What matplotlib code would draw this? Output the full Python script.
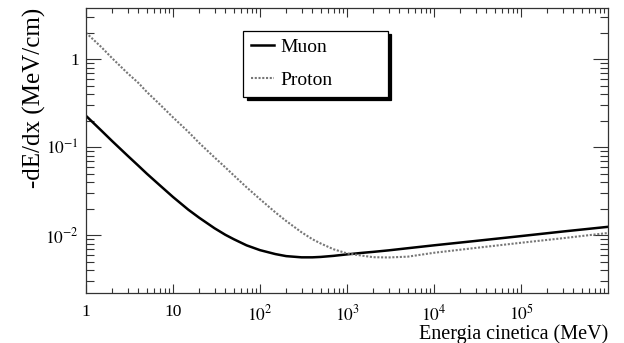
import matplotlib
matplotlib.use("Agg")
import matplotlib.pyplot as plt
from matplotlib.ticker import LogLocator, FixedLocator, FixedFormatter, NullFormatter

plt.rcParams['font.family'] = ['Liberation Serif', 'DejaVu Serif']
plt.rcParams['mathtext.fontset'] = 'stix'

# kinetic energy (MeV) and stopping power (MeV/cm)
energy = [1, 1.5, 2, 3, 4, 5, 7, 10, 15, 20, 30, 40, 50, 70, 100, 150, 200,
          300, 400, 500, 700, 1e3, 1.5e3, 2e3, 3e3, 5e3, 1e4, 3e4, 1e5,
          3e5, 1e6]
muon = [0.228, 0.155, 0.1175, 0.0804, 0.0617, 0.0501, 0.0372, 0.0272,
        0.0195, 0.0158, 0.0120, 0.0101, 0.0090, 0.00767, 0.00676, 0.00610,
        0.00578, 0.00560, 0.00560, 0.00566, 0.00582, 0.00605, 0.00630,
        0.00646, 0.00672, 0.00711, 0.00767, 0.00860, 0.00977, 0.01100,
        0.01245]
proton = [2.01, 1.38, 1.03, 0.697, 0.540, 0.426, 0.310, 0.219, 0.150,
          0.112, 0.0767, 0.0590, 0.0479, 0.0351, 0.0257, 0.0182, 0.0145,
          0.0108, 0.0090, 0.00804, 0.00692, 0.00621, 0.00585, 0.00562,
          0.00558, 0.00570, 0.00631, 0.00716, 0.00820, 0.00923, 0.0106]

xticks = [1, 10, 1e2, 1e3, 1e4, 1e5]
xlabels = ['1', '10', r'$10^{2}$', r'$10^{3}$', r'$10^{4}$', r'$10^{5}$']
yticks = [1e-2, 1e-1, 1]
ylabels = [r'$10^{-2}$', r'$10^{-1}$', '1']

fig = plt.figure(figsize=(6.24, 3.43), dpi=100)
ax = fig.add_axes([86/624, 50/343, 522/624, 285/343])

ax.plot(energy, muon, color='black', lw=1.8, label='Muon')
ax.plot(energy, proton, color='#777777', lw=1.5, ls=(0, (1, 0.8)), label='Proton')

ax.set_xscale('log')
ax.set_yscale('log')
ax.set_xlim(1, 1e6)
ax.set_ylim(0.0022, 3.84)

ax.xaxis.set_major_locator(FixedLocator(xticks))
ax.xaxis.set_major_formatter(FixedFormatter(xlabels))
ax.xaxis.set_minor_locator(LogLocator(base=10, subs=range(2, 10), numticks=20))
ax.xaxis.set_minor_formatter(NullFormatter())
ax.yaxis.set_major_locator(FixedLocator(yticks))
ax.yaxis.set_major_formatter(FixedFormatter(ylabels))
ax.yaxis.set_minor_locator(LogLocator(base=10, subs=range(2, 10), numticks=20))
ax.yaxis.set_minor_formatter(NullFormatter())

ax.tick_params(axis='both', which='both', direction='in', top=True, right=True,
               labelsize=12.5, width=0.8, color='#333333')
ax.tick_params(axis='x', which='major', length=6.5, pad=8)
ax.tick_params(axis='x', which='minor', length=3.8)
ax.tick_params(axis='y', which='major', length=11, pad=5)
ax.tick_params(axis='y', which='minor', length=5.8)
for s in ax.spines.values():
    s.set_linewidth(0.9)
    s.set_color('#333333')

ax.set_xlabel('Energia cinetica (MeV)', fontsize=14.5, loc='right', labelpad=0)
fig.text(34/624, 1 - 8/343, '-dE/dx (MeV/cm)', rotation=90, ha='center',
         va='top', fontsize=18)

leg = ax.legend(loc='lower left', bbox_to_anchor=(0.301, 0.688, 0.2775, 0.259),
                mode='expand', fontsize=14, frameon=True, fancybox=False,
                shadow={'color': 'black', 'alpha': 1.0, 'ox': 2.5, 'oy': -2.5},
                borderpad=0.4, labelspacing=0.8, handlelength=1.2,
                handletextpad=0.3, borderaxespad=0)
leg.get_frame().set_edgecolor('black')
leg.get_frame().set_linewidth(0.9)

fig.savefig('out.png', dpi=100)
